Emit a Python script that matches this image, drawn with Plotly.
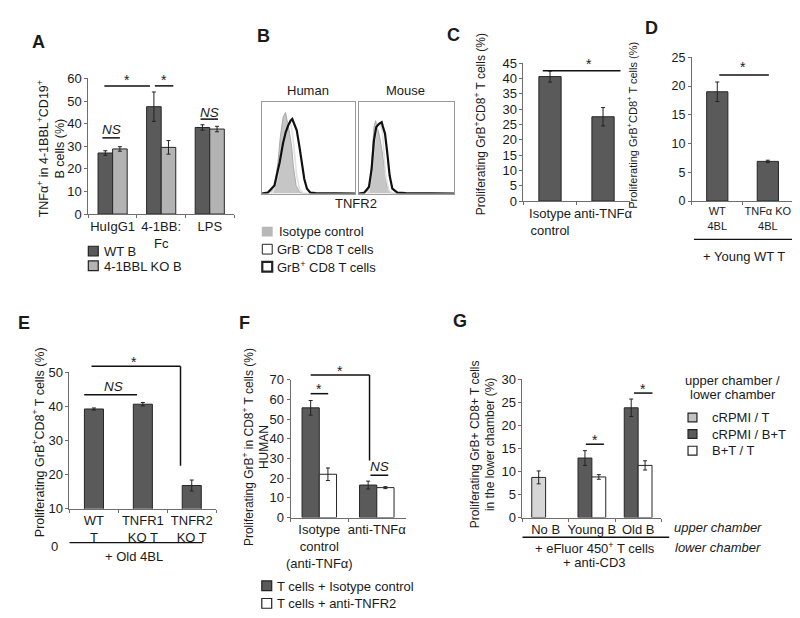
import plotly.graph_objects as go

W, H = 800, 618
FONT = "Liberation Sans, Arial, Helvetica, sans-serif"
INK = "#1a1a1a"
AXC = "#6e6e6e"
DARK = "#5a5a5a"
LIGHT = "#b3b3b3"
PALE = "#d6d6d6"
EDGE = "#262626"

# ---------------- data ----------------
# A
A_cats = ["HuIgG1", "4-1BB:<br>Fc", "LPS"]
A_wt = [27.0, 47.5, 38.3]
A_wt_err = [1.0, 6.5, 1.2]
A_ko = [28.8, 29.5, 37.6]
A_ko_err = [1.0, 3.0, 1.2]

# B (histograms, TNFR2 expression, arbitrary units 0-100)
B_hum_iso_x = [0, 8.1, 13.6, 17.3, 19.9, 22.8, 25.4, 27.2, 29.4, 32.0, 33.8, 36.8, 40.4, 44, 100]
B_hum_iso_y = [0, 1.8, 8.8, 33.6, 61.8, 83.0, 88.3, 79.5, 68.9, 51.2, 30.0, 8.8, 1.8, 0, 0]
B_hum_neg_x = [0, 11.8, 17.3, 21.0, 24.6, 28.3, 30.9, 33.0, 35.0, 37.5, 40.4, 44.0, 50, 100]
B_hum_neg_y = [0, 1.0, 19.4, 44.0, 65.0, 76.0, 77.7, 65.0, 47.7, 19.4, 5.3, 0.7, 0, 0]
B_hum_pos_x = [0, 6.3, 13.6, 19.1, 22.8, 25.7, 28.3, 30.9, 32.7, 34.9, 37.5, 40.4, 43.0, 45.6, 48.5, 52.2, 57.7, 100]
B_hum_pos_y = [0, 1.0, 8.8, 33.6, 54.8, 67.1, 74.2, 79.5, 81.3, 76.0, 68.9, 51.2, 33.6, 15.9, 5.3, 1.0, 0.4, 0]
B_mou_iso_x = [0, 8.8, 12.3, 14.0, 15.8, 17.5, 19.3, 21.8, 24.6, 27.4, 29.8, 33.3, 38, 100]
B_mou_iso_y = [0, 1.8, 15.9, 40.6, 72.4, 79.5, 72.4, 61.8, 44.2, 22.9, 7.1, 1.0, 0, 0]
B_mou_neg_x = [0, 10.5, 14.0, 16.8, 19.3, 21.8, 24.6, 26.3, 28.1, 31.6, 35.1, 40, 100]
B_mou_neg_y = [0, 1.8, 26.5, 58.3, 74.2, 76.0, 68.9, 40.6, 19.4, 3.5, 0.7, 0, 0]
B_mou_pos_x = [0, 5.3, 10.5, 13.3, 15.8, 18.2, 21.1, 23.9, 25.3, 27.4, 29.8, 32.3, 35.1, 40.4, 49.1, 100]
B_mou_pos_y = [0, 0.7, 7.1, 26.5, 58.3, 72.4, 76.0, 77.7, 72.4, 65.4, 44.2, 19.4, 5.3, 1.0, 0.4, 0]

# C
C_cats = ["Isotype<br>control", "anti-TNFα"]
C_vals = [40.6, 27.5]
C_err = [1.8, 3.0]

# D
D_cats = ["WT<br>4BL", "TNFα KO<br>4BL"]
D_vals = [19.0, 6.9]
D_err = [1.7, 0.2]

# E
E_cats = ["WT<br>T", "TNFR1<br>KO T", "TNFR2<br>KO T"]
E_vals = [39.2, 40.6, 16.8]
E_err = [0.3, 0.5, 1.6]

# F
F_cats = ["Isotype<br>control<br>(anti-TNFα)", "anti-TNFα"]
F_iso = [55.8, 16.5]
F_iso_err = [3.7, 2.0]
F_tnfr2 = [22.0, 15.2]
F_tnfr2_err = [3.2, 0.5]

# G
G_cats = ["No B", "Young B", "Old B"]
G_t = [8.7, None, None]
G_t_err = [1.4, 0, 0]
G_bt = [None, 12.9, 23.8]
G_bt_err = [0, 1.6, 1.9]
G_btt = [None, 8.8, 11.3]
G_btt_err = [0, 0.5, 1.0]

# ---------------- layout geometry (pixels) ----------------
AX = {
    1: dict(x0=77, x1=224, yt=65, yb=204, xr=(-0.5, 2.5), yr=(0, 60), dt=10, fs=13, yfs=13),
    2: dict(x0=252, x1=346, yt=89, yb=183, xr=(0, 100), yr=(0, 100)),
    3: dict(x0=350, x1=446, yt=89, yb=183, xr=(0, 100), yr=(0, 100)),
    4: dict(x0=516, x1=623, yt=49.3, yb=190.7, xr=(-0.5, 1.5), yr=(0, 45), dt=5, fs=13, yfs=13),
    5: dict(x0=686, x1=788, yt=43.3, yb=190.7, xr=(-0.5, 1.5), yr=(0, 25), dt=5, fs=11, yfs=12.5),
    6: dict(x0=58, x1=206, yt=366, yb=506, xr=(-0.5, 2.5), yr=(10, 50), dt=10, fs=13, yfs=13),
    7: dict(x0=281, x1=397, yt=374, yb=515, xr=(-0.5, 1.5), yr=(0, 70), dt=10, fs=13, yfs=13),
    8: dict(x0=515, x1=655, yt=373.3, yb=515, xr=(-0.5, 2.5), yr=(0, 30), dt=5, fs=13, yfs=13),
}


def P(i, xv, yv):
    s = AX[i]
    px = s['x0'] + (xv - s['xr'][0]) / (s['xr'][1] - s['xr'][0]) * (s['x1'] - s['x0'])
    py = s['yb'] - (yv - s['yr'][0]) / (s['yr'][1] - s['yr'][0]) * (s['yb'] - s['yt'])
    return px, py


def xn(i):
    return 'x' if i == 1 else f'x{i}'


def yn(i):
    return 'y' if i == 1 else f'y{i}'


fig = go.Figure()


def bar(i, x, y, err, color, offset, width):
    fig.add_trace(go.Bar(
        x=x, y=y, xaxis=xn(i), yaxis=yn(i), offset=offset, width=width,
        marker=dict(color=color, line=dict(color=EDGE, width=1)),
        error_y=dict(type='data', array=err, color='#222222', thickness=1, width=2),
        showlegend=False, hoverinfo='skip'))


bar(1, A_cats, A_wt, A_wt_err, DARK, -0.3, 0.3)
bar(1, A_cats, A_ko, A_ko_err, LIGHT, 0.0, 0.3)
bar(4, C_cats, C_vals, C_err, DARK, -0.21, 0.42)
bar(5, D_cats, D_vals, D_err, DARK, -0.21, 0.42)
bar(6, E_cats, E_vals, E_err, DARK, -0.195, 0.39)
bar(7, F_cats, F_iso, F_iso_err, DARK, -0.3, 0.3)
bar(7, F_cats, F_tnfr2, F_tnfr2_err, "#ffffff", 0.0, 0.3)
bar(8, G_cats, G_t, G_t_err, PALE, -0.3, 0.3)
bar(8, G_cats, G_bt, G_bt_err, DARK, -0.3, 0.3)
bar(8, G_cats, G_btt, G_btt_err, "#ffffff", 0.0, 0.3)


def hist(i, iso_x, iso_y, neg_x, neg_y, pos_x, pos_y):
    fig.add_trace(go.Scatter(x=iso_x, y=iso_y, xaxis=xn(i), yaxis=yn(i), mode='lines',
                             fill='tozeroy', fillcolor='#c6c6c6',
                             line=dict(color='#a8a8a8', width=1), showlegend=False, hoverinfo='skip'))
    fig.add_trace(go.Scatter(x=neg_x, y=neg_y, xaxis=xn(i), yaxis=yn(i), mode='lines',
                             line=dict(color='#e2e2e2', width=1.6), showlegend=False, hoverinfo='skip'))
    fig.add_trace(go.Scatter(x=pos_x, y=pos_y, xaxis=xn(i), yaxis=yn(i), mode='lines',
                             line=dict(color='#111111', width=2.2), showlegend=False, hoverinfo='skip'))


hist(2, B_hum_iso_x, B_hum_iso_y, B_hum_neg_x, B_hum_neg_y, B_hum_pos_x, B_hum_pos_y)
hist(3, B_mou_iso_x, B_mou_iso_y, B_mou_neg_x, B_mou_neg_y, B_mou_pos_x, B_mou_pos_y)

layout = dict(
    width=W, height=H, margin=dict(l=0, r=0, t=0, b=0, pad=0),
    paper_bgcolor='white', plot_bgcolor='white', showlegend=False,
    font=dict(family=FONT, size=13, color=INK),
)

for i, s in AX.items():
    xd = [s['x0'] / W, s['x1'] / W]
    yd = [1 - s['yb'] / H, 1 - s['yt'] / H]
    xk = 'xaxis' if i == 1 else f'xaxis{i}'
    yk = 'yaxis' if i == 1 else f'yaxis{i}'
    if i in (2, 3):
        layout[xk] = dict(domain=xd, anchor=yn(i), range=list(s['xr']), showline=True, mirror=True,
                          linecolor='#9a9a9a', linewidth=1, showticklabels=False, ticks='',
                          showgrid=False, zeroline=False, fixedrange=True)
        layout[yk] = dict(domain=yd, anchor=xn(i), range=[0, 100], showline=True, mirror=True,
                          linecolor='#9a9a9a', linewidth=1, showticklabels=False, ticks='',
                          showgrid=False, zeroline=False, fixedrange=True)
    else:
        layout[xk] = dict(domain=xd, anchor=yn(i), type='category', range=list(s['xr']),
                          showline=True, linecolor=AXC, linewidth=1, ticks='outside',
                          tickson='boundaries', ticklen=3, tickcolor=AXC, tickangle=0,
                          ticklabeloverflow='allow',
                          tickfont=dict(size=s['fs'], color=INK), showgrid=False, zeroline=False,
                          fixedrange=True)
        layout[yk] = dict(domain=yd, anchor=xn(i), range=list(s['yr']), dtick=s['dt'],
                          tick0=0, showline=True, linecolor=AXC, linewidth=1, ticks='outside',
                          ticklen=3, tickcolor=AXC, tickfont=dict(size=s['yfs'], color=INK),
                          showgrid=False, zeroline=False, fixedrange=True)

fig.update_layout(**layout)

ANN = []
SHP = []


def ann(px, py, text, size=13, angle=0, xanchor='center', bold=False, italic=False):
    t = text
    if bold:
        t = f"<b>{t}</b>"
    if italic:
        t = f"<i>{t}</i>"
    ANN.append(dict(x=px / W, y=1 - py / H, xref='paper', yref='paper', text=t, showarrow=False,
                    xanchor=xanchor, yanchor='middle', textangle=angle,
                    font=dict(family=FONT, size=size, color=INK)))


def seg(x0, y0, x1, y1, width=1.3, color='#111111'):
    SHP.append(dict(type='line', xref='paper', yref='paper', x0=x0 / W, y0=1 - y0 / H,
                    x1=x1 / W, y1=1 - y1 / H, line=dict(color=color, width=width)))


def bracket(i, xa, xb, yv, width=1.5):
    p0 = P(i, xa, yv)
    p1 = P(i, xb, yv)
    seg(p0[0], p0[1], p1[0], p1[1], width)


def star(i, xv, yv):
    px, py = P(i, xv, yv)
    ann(px, py + 3, "*", size=14)


def ns(i, xv, yv):
    px, py = P(i, xv, yv)
    ann(px, py, "NS", size=13.5, italic=True)


def square(px0, py0, px1, py1, fill, lw=1.2):
    SHP.append(dict(type='rect', xref='paper', yref='paper', x0=px0 / W, y0=1 - py1 / H,
                    x1=px1 / W, y1=1 - py0 / H, fillcolor=fill,
                    line=dict(color='#222222', width=lw)))


# panel letters
for L, (px, py) in dict(A=(27, 28), B=(254, 22), C=(445, 21), D=(645, 13),
                        E=(12, 316), F=(235, 316), G=(452, 314)).items():
    ann(px, py, L, size=18, bold=True)

# ---- A
ann(40, 137, "TNFα<sup>+</sup> in 4-1BBL<sup>+</sup>CD19<sup>+</sup><br>B cells (%)", size=12.5, angle=-90)
bracket(1, -0.17, 0.77, 56.7)
bracket(1, 0.87, 1.25, 56.7)
star(1, 0.3, 60.4)
star(1, 1.06, 60.4)
bracket(1, -0.21, 0.15, 33.7)
ns(1, -0.03, 37.2)
bracket(1, 1.81, 2.17, 42.0)
ns(1, 1.99, 45.1)
square(77, 237, 87, 247, DARK)
square(77, 252, 87, 262, LIGHT)
ann(91, 242, "WT B", xanchor='left')
ann(91, 257.5, "4-1BBL KO B", xanchor='left')

# ---- B
ann(299, 77, "Human")
ann(397, 77, "Mouse")
ann(347, 193, "TNFR2")
SHP.append(dict(type='rect', xref='paper', yref='paper', x0=252 / W, y0=1 - 227 / H,
                x1=263 / W, y1=1 - 217 / H, fillcolor='#b8b8b8', line=dict(width=0)))
square(252.5, 235, 262.5, 245, 'white', 1)
square(252.5, 253, 262.5, 263, 'white', 2.2)
ann(267, 222, "Isotype control", xanchor='left')
ann(265, 240, "GrB<sup>-</sup> CD8 T cells", xanchor='left')
ann(265, 258, "GrB<sup>+</sup> CD8 T cells", xanchor='left')

# ---- C
ann(472, 112, "Proliferating GrB<sup>+</sup>CD8<sup>+</sup> T cells (%)", size=12, angle=-90)
bracket(4, -0.136, 1.33, 42.5)
star(4, 0.73, 45.7)

# ---- D
ann(626, 113, "Proliferating GrB<sup>+</sup>CD8<sup>+</sup> T cells (%)", size=11, angle=-90)
bracket(5, 0.04, 1.02, 21.9)
star(5, 0.5, 23.9)
seg(688, 230, 788, 230, 1.4)
ann(738, 248, "+ Young WT T")

# ---- E
ann(27, 438, "Proliferating GrB<sup>+</sup>CD8<sup>+</sup> T cells (%)", size=12.5, angle=-90)
bracket(6, -0.2, 0.88, 43.4)
ns(6, 0.41, 45.7)
p0 = P(6, -0.05, 51.7)
p1 = P(6, 1.77, 51.7)
p2 = P(6, 1.77, 22.6)
seg(p0[0], p0[1], p1[0], p1[1], 1.5)
seg(p1[0], p1[1], p2[0], p2[1], 1.5)
star(6, 0.82, 53.7)
seg(58, 540.7, 192, 540.7, 1.4)
ann(123, 555, "+ Old 4BL")
ann(43, 545, "0")

# ---- F
ann(246, 443, "Proliferating GrB<sup>+</sup> in CD8<sup>+</sup> T cells (%)<br>HUMAN", size=12, angle=-90)
bracket(7, -0.15, 0.155, 63.0)
star(7, 0.0, 67.0)
p0 = P(7, -0.15, 72.5)
p1 = P(7, 0.874, 72.5)
p2 = P(7, 0.874, 29.0)
seg(p0[0], p0[1], p1[0], p1[1], 1.5)
seg(p1[0], p1[1], p2[0], p2[1], 1.5)
star(7, 0.36, 76.0)
bracket(7, 0.89, 1.2, 21.5)
ns(7, 1.05, 25.8)
square(252, 580, 262, 590, DARK)
square(252, 598, 262, 608, 'white')
ann(265, 585.5, "T cells + Isotype control", xanchor='left')
ann(265, 603.5, "T cells + anti-TNFR2", xanchor='left')

# ---- G
ann(475, 440, "Proliferating GrB+ CD8+ T cells<br>in the lower chamber (%)", size=12, angle=-90)
bracket(8, 0.87, 1.26, 15.9)
star(8, 1.06, 17.4)
bracket(8, 1.91, 2.31, 27.0)
star(8, 2.11, 28.6)
ann(712, 525, "upper chamber", italic=True)
seg(515, 535.3, 663, 535.3, 1.4)
ann(588, 546, "+ eFluor 450<sup>+</sup> T cells")
ann(588, 561, "+ anti-CD3")
ann(712, 546, "lower chamber", italic=True)
ann(727, 375, "upper chamber /")
ann(727, 388.5, "lower chamber")
square(682, 408, 691, 417, '#c2c2c2')
square(682, 425, 691, 434, DARK)
square(682, 442, 691, 451, 'white')
ann(704, 412.5, "cRPMI / T", xanchor='left')
ann(704, 429.5, "cRPMI / B+T", xanchor='left')
ann(704, 446.5, "B+T / T", xanchor='left')

fig.update_layout(annotations=ANN, shapes=SHP)
fig.write_html("out.html")
